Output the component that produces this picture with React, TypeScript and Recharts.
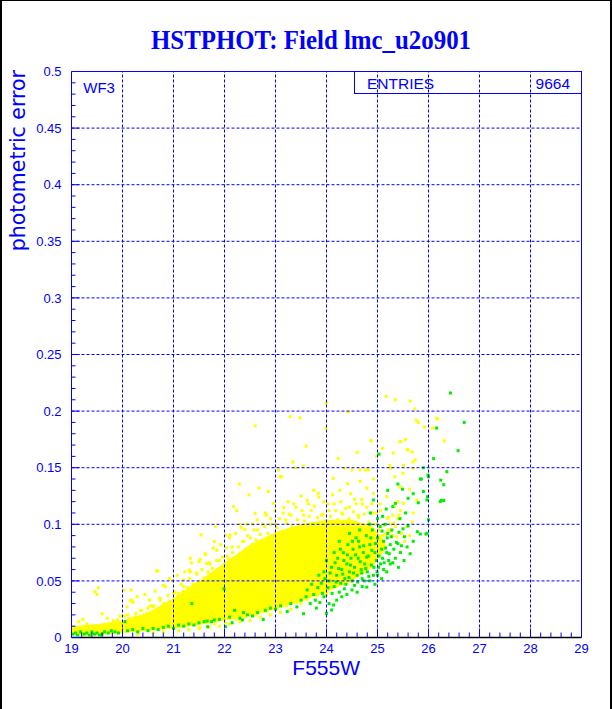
import React from "react";
import { ComposedChart, Area, Scatter, XAxis, YAxis, ReferenceLine } from "recharts";

// ---- Axis tick labels ----
const X_TICK_LABELS = ["19", "20", "21", "22", "23", "24", "25", "26", "27", "28", "29"];
const Y_TICK_LABELS = ["0", "0.05", "0.1", "0.15", "0.2", "0.25", "0.3", "0.35", "0.4", "0.45", "0.5"];
const X_GRID = [20, 21, 22, 23, 24, 25, 26, 27, 28];
const Y_GRID = [0.05, 0.1, 0.15, 0.2, 0.25, 0.3, 0.35, 0.4, 0.45];

// ---- Dense yellow core of the cloud (read as lower/upper envelope) ----
const BAND_M = [19.0, 19.5, 20.0, 20.5, 21.0, 21.5, 22.0, 22.5, 23.0, 23.5, 24.0, 24.5, 24.9, 25.15];
const BAND_LO = [0.002, 0.002, 0.004, 0.006, 0.008, 0.011, 0.015, 0.019, 0.025, 0.032, 0.040, 0.050, 0.062, 0.078];
const BAND_HI = [0.010, 0.012, 0.015, 0.022, 0.035, 0.050, 0.066, 0.082, 0.093, 0.100, 0.104, 0.104, 0.098, 0.085];

// ---- Yellow stars around the dense core (F555W, error) ----
const YELLOW_FUZZ: [number, number][] = [
  [20.04,0.019],[20.09,0.027],[20.13,0.017],[20.21,0.031],[20.26,0.021],[20.29,0.036],[20.37,0.024],[20.41,0.019],
  [20.44,0.038],[20.5,0.026],[20.53,0.033],[20.61,0.028],[20.64,0.041],[20.68,0.024],[20.73,0.035],[20.81,0.03],
  [20.84,0.045],[20.89,0.037],[20.95,0.032],[20.98,0.05],
  [21.03,0.04],[21.07,0.055],[21.09,0.036],[21.15,0.047],[21.19,0.041],[21.22,0.058],[21.28,0.044],[21.32,0.052],
  [21.35,0.066],[21.38,0.047],[21.45,0.057],[21.49,0.049],[21.52,0.069],[21.56,0.06],[21.59,0.052],[21.62,0.074],
  [21.68,0.058],[21.7,0.066],[21.76,0.061],[21.78,0.079],[21.84,0.068],[21.87,0.06],[21.92,0.082],[21.96,0.071],
  [21.98,0.064],
  [22.04,0.079],[22.07,0.07],[22.1,0.088],[22.16,0.075],[22.19,0.068],[22.22,0.092],[22.27,0.08],[22.31,0.074],
  [22.33,0.097],[22.38,0.085],[22.42,0.078],[22.44,0.1],[22.51,0.088],[22.54,0.082],[22.58,0.095],[22.62,0.086],
  [22.64,0.104],[22.7,0.091],[22.73,0.085],[22.79,0.098],[22.82,0.108],[22.85,0.092],[22.91,0.1],[22.95,0.089],
  [22.99,0.112],
  [23.03,0.097],[23.08,0.105],[23.13,0.094],[23.16,0.115],[23.22,0.101],[23.27,0.109],[23.32,0.098],[23.36,0.118],
  [23.43,0.104],[23.46,0.099],[23.52,0.112],[23.57,0.103],[23.62,0.121],[23.66,0.107],[23.72,0.101],[23.76,0.116],
  [23.82,0.106],[23.85,0.124],[23.93,0.109],[23.98,0.103],
  [24.03,0.118],[24.08,0.107],[24.12,0.126],[24.18,0.112],[24.22,0.104],[24.28,0.12],[24.32,0.109],[24.38,0.114],
  [24.44,0.105],[24.47,0.127],[24.53,0.111],[24.58,0.118],[24.63,0.106],[24.69,0.122],[24.74,0.109],[24.79,0.115],
  [24.83,0.102],[24.89,0.118],[24.94,0.1],[24.97,0.11],
  [25.02,0.095],[25.06,0.112],[25.12,0.099],[25.16,0.091],[25.21,0.106],[25.27,0.094],[25.32,0.101],[25.38,0.089],
  [25.42,0.108],[25.47,0.092],[25.53,0.085],[25.57,0.098],[25.63,0.09],[25.68,0.102],
  [21.52,0.009],[21.81,0.012],[22.02,0.013],[22.22,0.016],[22.41,0.018],[22.62,0.02],[22.81,0.023],[23.02,0.025],
  [23.21,0.028],[23.42,0.031],[23.61,0.034],[23.82,0.037],[24.01,0.04],
];

// ---- Yellow scattered stars (F555W, error) ----
const YELLOW_STARS: [number, number][] = [
  [19.14,0.014],[19.3,0.012],[19.22,0.016],[19.46,0.0405],[19.53,0.044],[19.5,0.038],[19.6,0.021],[19.7,0.017],
  [19.82,0.015],[19.9,0.0155],[19.95,0.019],[20.03,0.042],[20.15,0.0325],[20.17,0.042],[20.18,0.033],[20.1,0.02],
  [20.25,0.018],[20.35,0.024],[20.42,0.02],[20.48,0.0215],[20.55,0.028],[20.6,0.027],[20.67,0.0587],[20.69,0.059],
  [20.74,0.033],[20.77,0.027],[20.8,0.046],[20.85,0.024],[20.9,0.03],[20.92,0.052],[21.0,0.039],[21.05,0.033],
  [21.1,0.039],[21.2,0.045],[21.2,0.051],[21.25,0.036],[21.31,0.0596],[21.33,0.07],[21.33,0.058],[21.4,0.047],
  [21.46,0.056],[21.5,0.067],[21.54,0.0906],[21.6,0.05],[21.63,0.073],[21.65,0.0655],[21.7,0.055],[21.72,0.065],
  [21.8,0.085],[21.82,0.098],[21.85,0.077],[21.9,0.068],[21.95,0.062],[22.02,0.0905],[22.05,0.072],[22.11,0.0906],
  [22.15,0.08],[22.18,0.1156],[22.24,0.112],[22.29,0.1356],[22.3,0.1],[22.35,0.085],[22.4,0.0955],[22.45,0.09],
  [22.48,0.126],[22.55,0.1],[22.6,0.187],[22.6,0.1097],[22.65,0.095],[22.68,0.132],[22.75,0.1],[22.8,0.11],
  [22.86,0.129],[22.9,0.105],[22.96,0.1185],[23.0,0.1],[23.06,0.148],[23.09,0.142],[23.12,0.142],[23.15,0.11],
  [23.2,0.104],[23.25,0.12],[23.29,0.195],[23.3,0.108],[23.34,0.155],[23.38,0.15],[23.4,0.115],[23.48,0.194],
  [23.5,0.125],[23.55,0.1515],[23.55,0.108],[23.6,0.169],[23.65,0.118],[23.7,0.112],[23.75,0.13],[23.84,0.1274],
  [23.9,0.108],[23.95,0.12],[23.99,0.185],[24.0,0.207],[24.05,0.112],[24.13,0.1406],[24.15,0.118],[24.23,0.158],
  [24.26,0.13],[24.3,0.11],[24.35,0.1495],[24.41,0.136],[24.42,0.1995],[24.45,0.115],[24.5,0.148],[24.55,0.122],
  [24.6,0.1636],[24.62,0.108],[24.66,0.148],[24.66,0.138],[24.7,0.118],[24.76,0.148],[24.79,0.132],[24.82,0.148],
  [24.87,0.1736],[24.88,0.174],[24.9,0.11],[24.92,0.14],[24.92,0.1274],[24.98,0.16],[25.0,0.1],[25.05,0.118],
  [25.1,0.167],[25.17,0.213],[25.18,0.1244],[25.2,0.095],[25.24,0.152],[25.26,0.1495],[25.31,0.163],[25.33,0.1156],
  [25.34,0.142],[25.35,0.21],[25.4,0.105],[25.44,0.173],[25.44,0.133],[25.46,0.173],[25.5,0.145],[25.51,0.1185],
  [25.51,0.152],[25.55,0.175],[25.58,0.166],[25.6,0.1656],[25.63,0.131],[25.64,0.209],[25.68,0.164],[25.7,0.155],
  [25.7,0.11],[25.7,0.1495],[25.73,0.202],[25.74,0.157],[25.76,0.192],[25.77,0.1215],[25.8,0.19],[25.92,0.186],
  [26.08,0.185],[26.16,0.1936],[26.18,0.193],[26.31,0.1736],
  [23.5,0.03],[23.6,0.034],[23.7,0.04],[23.8,0.038],[23.9,0.045],[24.0,0.038],[24.1,0.05],[24.2,0.046],
  [24.3,0.052],[24.4,0.048],[24.5,0.05],[24.6,0.055],[24.7,0.06],[24.8,0.062],[24.9,0.07],[25.0,0.075],
  [25.05,0.085],[25.1,0.09],[25.15,0.08],[25.2,0.105],[25.25,0.1],[25.3,0.09],[25.3,0.108],[25.35,0.098],
  [25.4,0.12],[25.45,0.112],
  [22.5,0.015],[22.7,0.018],[22.9,0.02],[23.1,0.022],[23.3,0.025],[22.3,0.014],[22.1,0.012],[21.9,0.01],
  [21.7,0.009],[21.5,0.008],[21.3,0.007],[21.1,0.006],[20.8,0.005],[20.6,0.004],[20.3,0.003],
];

// ---- Green scattered stars (F555W, error) ----
const GREEN_STARS: [number, number][] = [
  [19.02,0.003],[19.08,0.004],[19.12,0.002],[19.18,0.005],[19.25,0.003],[19.3,0.004],[19.35,0.002],[19.4,0.005],
  [19.45,0.003],[19.5,0.004],[19.55,0.002],[19.6,0.003],[19.65,0.005],[19.72,0.004],[19.78,0.006],[19.85,0.005],
  [19.92,0.004],[20.05,0.014],[20.1,0.006],[20.2,0.007],[20.3,0.005],[20.4,0.008],[20.5,0.006],[20.6,0.008],
  [20.7,0.007],[20.8,0.009],[20.9,0.01],[21.0,0.008],[21.1,0.011],[21.2,0.01],[21.3,0.012],[21.36,0.03],
  [21.4,0.011],[21.5,0.013],[21.6,0.014],[21.66,0.0145],[21.67,0.0095],[21.75,0.014],[21.8,0.0155],[21.9,0.016],
  [21.99,0.043],[22.02,0.0095],[22.1,0.018],[22.15,0.013],[22.2,0.024],[22.3,0.017],[22.35,0.0155],[22.37,0.022],
  [22.45,0.02],[22.55,0.019],[22.65,0.022],[22.76,0.016],[22.8,0.024],[22.9,0.026],[23.0,0.025],[23.1,0.028],
  [23.23,0.023],[23.3,0.03],[23.42,0.027],[23.5,0.033],[23.55,0.021],[23.6,0.036],[23.68,0.03],[23.75,0.038],
  [23.8,0.026],[23.87,0.031],[23.95,0.036],[24.0,0.0213],[24.05,0.03],[24.1,0.0243],[24.14,0.0287],[24.2,0.033],
  [24.25,0.04],[24.3,0.036],[24.4,0.038],[24.5,0.042],[24.6,0.04],[24.7,0.045],[24.79,0.0445],[24.85,0.05],
  [24.95,0.047],[25.0,0.055],[25.08,0.052],[25.12,0.06],[25.18,0.058],[25.25,0.065],[25.3,0.066],[25.35,0.07],
  [25.41,0.062],[25.45,0.075],[25.52,0.068],[25.58,0.08],[25.64,0.074],[25.7,0.085],[25.4,0.083],[25.53,0.089],
  [25.6,0.0985],[25.78,0.0935],[25.84,0.0914],[25.95,0.0914],[25.97,0.092],[26.0,0.104],
  [24.05,0.05],[24.1,0.062],[24.15,0.045],[24.2,0.055],[24.22,0.07],[24.28,0.048],[24.3,0.06],[24.33,0.075],
  [24.36,0.052],[24.4,0.065],[24.42,0.082],[24.45,0.058],[24.48,0.07],[24.5,0.05],[24.52,0.078],[24.55,0.062],
  [24.58,0.088],[24.6,0.055],[24.62,0.07],[24.65,0.08],[24.68,0.06],[24.7,0.052],[24.72,0.075],[24.75,0.065],
  [24.78,0.09],[24.8,0.058],[24.82,0.072],[24.85,0.082],[24.88,0.064],[24.9,0.095],[24.92,0.055],[24.95,0.075],
  [24.98,0.068],[25.0,0.088],[25.02,0.062],[25.05,0.098],[25.08,0.078],[25.1,0.07],[25.12,0.085],[25.15,0.1],
  [25.18,0.075],[25.2,0.092],[25.22,0.068],[25.25,0.082],[25.28,0.095],[24.35,0.043],[24.55,0.046],[24.75,0.05],
  [24.45,0.092],[24.25,0.085],[24.15,0.075],[23.95,0.058],[23.9,0.048],[24.0,0.068],[23.85,0.055],[24.65,0.095],
  [24.85,0.1],[25.0,0.105],
  [24.86,0.11],[24.92,0.1215],[25.1,0.107],[25.17,0.1135],[25.3,0.1156],[25.35,0.1185],[25.4,0.1356],[25.44,0.105],
  [25.49,0.131],[25.6,0.123],[25.7,0.127],[25.86,0.14],[25.03,0.162],[25.9,0.15],[26.0,0.142],[25.98,0.1244],
  [26.1,0.158],[26.16,0.185],[26.24,0.139],[26.3,0.135],[26.25,0.121],[26.3,0.121],[26.23,0.12],[26.36,0.1465],
  [26.43,0.216],[26.58,0.165],[26.7,0.19],[25.8,0.119],[25.9,0.129],[25.99,0.1435],[25.84,0.14],[25.97,0.1215],
  [25.2,0.13],[25.55,0.11],
  [23.62,0.042],[23.71,0.047],[23.78,0.033],[23.83,0.044],[23.92,0.039],[23.97,0.052],[24.03,0.044],[24.07,0.057],
  [24.11,0.039],[24.17,0.066],[24.19,0.049],[24.24,0.061],[24.27,0.078],[24.32,0.056],[24.34,0.068],[24.38,0.047],
  [24.41,0.073],[24.44,0.053],[24.47,0.064],[24.51,0.085],[24.53,0.057],[24.57,0.073],[24.61,0.049],[24.63,0.085],
  [24.66,0.067],[24.69,0.057],[24.73,0.081],[24.77,0.061],[24.79,0.071],[24.83,0.054],[24.87,0.088],[24.89,0.077],
  [24.93,0.062],[24.96,0.083],[24.99,0.058],[25.03,0.072],[25.06,0.065],[25.09,0.094],[25.13,0.066],[25.16,0.079],
  [25.19,0.088],[25.23,0.074],[25.27,0.089],[25.32,0.078],[25.37,0.084],[25.42,0.093],[25.47,0.081],[25.5,0.096],
];

const BLUE = "#0000ff";
const YELLOW = "#ffff00";
const GREEN = "#00ee00";
const MARGIN = { top: 71.5, right: 30.5, bottom: 0, left: 0.5 };

const bandData = BAND_M.map((m, i) => ({ m, range: [BAND_LO[i], BAND_HI[i]] }));
const yellowData = [...YELLOW_FUZZ, ...YELLOW_STARS].map(([m, e]) => ({ m, e }));
const greenData = GREEN_STARS.map(([m, e]) => ({ m, e }));

const xTicks: number[] = [];
for (let i = 0; i <= 50; i++) xTicks.push(Math.round((19 + i * 0.2) * 10) / 10);
const yTicks: number[] = [];
for (let i = 0; i <= 50; i++) yTicks.push(Math.round(i * 0.01 * 100) / 100);

const isMajorX = (v: number) => Math.abs(v - Math.round(v)) < 1e-6;
const isMajorY = (v: number) => Math.abs(v * 20 - Math.round(v * 20)) < 1e-6;

const XTick = (props: any) => {
  const { x, y, payload } = props;
  const v = payload.value;
  const major = isMajorX(v);
  return (
    <g>
      <line x1={x} x2={x} y1={y} y2={y - (major ? 9 : 5)} stroke={BLUE} strokeWidth={1} />
      {major && (
        <text x={x} y={y + 15} textAnchor="middle" fill={BLUE} fontSize={13} fontFamily="Liberation Sans, Arial, sans-serif">
          {X_TICK_LABELS[Math.round(v) - 19]}
        </text>
      )}
    </g>
  );
};

const YTick = (props: any) => {
  const { x, y, payload } = props;
  const v = payload.value;
  const major = isMajorY(v);
  return (
    <g>
      <line x1={x} x2={x + (major ? 8 : 4)} y1={y} y2={y} stroke={BLUE} strokeWidth={1} />
      {major && (
        <text x={x - 10} y={y + 4.6} textAnchor="end" fill={BLUE} fontSize={13} fontFamily="Liberation Sans, Arial, sans-serif">
          {Y_TICK_LABELS[Math.round(v * 20)]}
        </text>
      )}
    </g>
  );
};

const square = (fill: string, s: number) => (p: any) => (
  <rect x={p.cx - s / 2} y={p.cy - s / 2} width={s} height={s} fill={fill} />
);

export default function App() {
  return (
    <div style={{ position: "absolute", left: 0, top: 0, width: 612, height: 709, background: "#fff", overflow: "hidden" }}>
      <ComposedChart width={612} height={709} data={bandData} margin={MARGIN}>
        <XAxis
          type="number"
          dataKey="m"
          domain={[19, 29]}
          ticks={xTicks}
          interval={0}
          allowDataOverflow
          height={71.5}
          tickSize={0}
          tickMargin={0}
          tickLine={false}
          axisLine={{ stroke: "#000", strokeWidth: 1.5 }}
          tick={<XTick />}
        />
        <YAxis
          type="number"
          domain={[0, 0.5]}
          ticks={yTicks}
          interval={0}
          allowDataOverflow
          width={71}
          tickSize={0}
          tickMargin={0}
          tickLine={false}
          axisLine={{ stroke: BLUE, strokeWidth: 1 }}
          tick={<YTick />}
        />
        <Area
          type="linear"
          dataKey="range"
          stroke="none"
          fill={YELLOW}
          fillOpacity={1}
          isAnimationActive={false}
          dot={false}
          activeDot={false}
        />
        <Scatter data={yellowData} dataKey="e" isAnimationActive={false} shape={square(YELLOW, 3)} />
        <Scatter data={greenData} dataKey="e" isAnimationActive={false} shape={square(GREEN, 3)} />
      </ComposedChart>
      <svg width={612} height={709} style={{ position: "absolute", left: 0, top: 0, pointerEvents: "none" }}>
        <text
          x={311}
          y={49}
          textAnchor="middle"
          fill={BLUE}
          fontSize={27}
          fontWeight="bold"
          fontFamily="Liberation Serif, Times New Roman, serif"
          textLength={320}
          lengthAdjust="spacingAndGlyphs"
        >
          HSTPHOT: Field lmc_u2o901
        </text>
        <text x={360} y={675} textAnchor="end" fill={BLUE} fontSize={21} fontFamily="Liberation Sans, Arial, sans-serif">
          F555W
        </text>
        <text
          transform="translate(25,70) rotate(-90)"
          textAnchor="end"
          fill={BLUE}
          fontSize={20.5}
          fontFamily="DejaVu Sans, sans-serif"
        >
          photometric error
        </text>
        <text x={83.3} y={93.3} fill={BLUE} fontSize={15} fontFamily="Liberation Sans, Arial, sans-serif">
          WF3
        </text>
        <rect x={354.5} y={71.5} width={227} height={22} fill="none" stroke={BLUE} strokeWidth={1} />
        <text x={367} y={88.5} fill={BLUE} fontSize={15.5} fontFamily="Liberation Sans, Arial, sans-serif">
          ENTRIES
        </text>
        <text x={570} y={88.5} textAnchor="end" fill={BLUE} fontSize={15.5} fontFamily="Liberation Sans, Arial, sans-serif">
          9664
        </text>
      </svg>
      {/* grid drawn above the stars, on the same scales */}
      <div style={{ position: "absolute", left: 0, top: 0, pointerEvents: "none" }}>
        <ComposedChart width={612} height={709} margin={MARGIN}>
          <XAxis type="number" dataKey="m" domain={[19, 29]} allowDataOverflow height={71.5} tick={false} tickLine={false} axisLine={false} />
          <YAxis type="number" domain={[0, 0.5]} allowDataOverflow width={71} tick={false} tickLine={false} axisLine={false} />
          {X_GRID.map((v) => (
            <ReferenceLine key={"gx" + v} x={v} stroke={BLUE} strokeWidth={1} strokeDasharray="3 2" />
          ))}
          {Y_GRID.map((v) => (
            <ReferenceLine key={"gy" + v} y={v} stroke={BLUE} strokeWidth={1} strokeDasharray="3 2" />
          ))}
          <ReferenceLine x={29} stroke={BLUE} strokeWidth={1} />
          <ReferenceLine y={0.5} stroke={BLUE} strokeWidth={1} />
        </ComposedChart>
      </div>
      <div
        style={{
          position: "absolute",
          left: 0,
          top: 0,
          width: 612,
          height: 709,
          boxSizing: "border-box",
          borderLeft: "2px solid #000",
          borderTop: "1px solid #000",
          borderRight: "2px solid #000",
          pointerEvents: "none",
        }}
      />
    </div>
  );
}
